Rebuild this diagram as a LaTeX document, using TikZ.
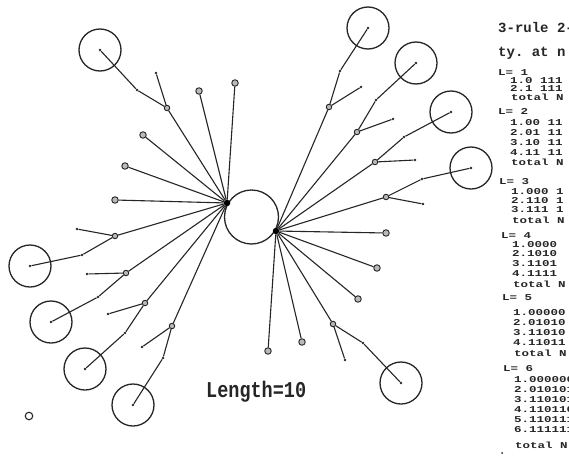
\documentclass[tikz,border=0pt]{standalone}
\usepackage{fontspec}
\setmonofont{Liberation Mono}
\usepackage{graphicx}
\definecolor{ink}{HTML}{262626}
\tikzset{
  ln/.style={draw=ink, line width=1.1pt},
  enddot/.style={circle, draw=ink, fill=gray!55, line width=0.9pt, minimum size=6.5pt, inner sep=0pt},
  brdot/.style={circle, draw=ink, fill=gray!55, line width=0.9pt, minimum size=5.5pt, inner sep=0pt},
  tiny/.style={circle, fill=ink, minimum size=2.8pt, inner sep=0pt},
  hubdot/.style={circle, fill=black, minimum size=6.5pt, inner sep=0pt},
  ring/.style={circle, draw=ink, line width=1.3pt, minimum size=42pt, inner sep=0pt},
  txt/.style={anchor=base west, inner sep=0pt, text=ink, font=\ttfamily\bfseries\fontsize{12.5}{12.5}\selectfont},
  hdr/.style={anchor=base west, inner sep=0pt, text=ink, font=\ttfamily\bfseries\fontsize{14}{14}\selectfont},
}
\newcommand{\squash}[1]{\scalebox{1}[0.72]{#1}}
\begin{document}
\begin{tikzpicture}[x=1pt,y=-1pt]
\useasboundingbox (0,0) rectangle (569,455);
\fill[white] (0,0) rectangle (569,455);
\clip (0,0) rectangle (569,455);

% central circle and hubs
\node[circle, draw=ink, line width=1.3pt, minimum size=54pt, inner sep=0pt] (C0) at (251.5,217) {};
\node[hubdot] (H1) at (227,203) {};
\node[hubdot] (H2) at (276,231) {};

% ---------- left hub ----------
\node[enddot] (l1) at (235,83) {};
\node[enddot] (l2) at (199,91) {};
\node[brdot] (lb1) at (167,108) {};
\node[tiny] (lt1) at (156,73) {};
\node[tiny] (lm1) at (137,90) {};
\node[tiny] (lc1) at (100,50) {};
\node[ring] (lr1) at (100,50) {};
\node[enddot] (l4) at (143,135) {};
\node[enddot] (l5) at (125,166) {};
\node[enddot] (l6) at (115,200) {};
\node[brdot] (lb2) at (115,236) {};
\node[tiny] (lt2) at (77,229) {};
\node[tiny] (lm2) at (82,255) {};
\node[tiny] (lc2) at (30,266) {};
\node[ring] (lr2) at (30,266) {};
\node[brdot] (lb3) at (126,273) {};
\node[tiny] (lt3) at (87,274) {};
\node[tiny] (lm3) at (98,297) {};
\node[tiny] (lc3) at (51,322) {};
\node[ring] (lr3) at (51,322) {};
\node[brdot] (lb4) at (145,303) {};
\node[tiny] (lt4) at (108,314) {};
\node[tiny] (lm4) at (125,333) {};
\node[tiny] (lc4) at (85,369) {};
\node[ring] (lr4) at (85,369) {};
\node[brdot] (lb5) at (172,326) {};
\node[tiny] (lt5) at (142,347) {};
\node[tiny] (lm5) at (163,358) {};
\node[tiny] (lc5) at (133,405) {};
\node[ring] (lr5) at (133,405) {};

\foreach \n in {l1,l2,lb1,l4,l5,l6,lb2,lb3,lb4,lb5} \draw[ln] (H1) -- (\n);
\foreach \i in {1,...,5} {
  \draw[ln] (lb\i) -- (lt\i);
  \draw[ln] (lb\i) -- (lm\i) -- (lc\i);
}

% ---------- right hub ----------
\node[brdot] (rb1) at (329,107) {};
\node[tiny] (rt1) at (361,87) {};
\node[tiny] (rm1) at (340,71) {};
\node[tiny] (rc1) at (368,28) {};
\node[ring] (rr1) at (368,28) {};
\node[brdot] (rb2) at (357,132) {};
\node[tiny] (rt2) at (393,119) {};
\node[tiny] (rm2) at (376,100) {};
\node[tiny] (rc2) at (416,63) {};
\node[ring] (rr2) at (416,63) {};
\node[brdot] (rb3) at (375,162) {};
\node[tiny] (rt3) at (415,160) {};
\node[tiny] (rm3) at (404,137) {};
\node[tiny] (rc3) at (451,112) {};
\node[ring] (rr3) at (451,112) {};
\node[brdot] (rb4) at (386,197) {};
\node[tiny] (rt4) at (423,204) {};
\node[tiny] (rm4) at (422,179) {};
\node[tiny] (rc4) at (471,168) {};
\node[ring] (rr4) at (471,168) {};
\node[enddot] (r5) at (386,233) {};
\node[enddot] (r6) at (377,268) {};
\node[enddot] (r7) at (358,299) {};
\node[brdot] (rb5) at (333,324) {};
\node[tiny] (rt5) at (345,360) {};
\node[tiny] (rm5) at (363,343) {};
\node[tiny] (rc5) at (401,383) {};
\node[ring] (rr5) at (401,383) {};
\node[enddot] (r9) at (302,342) {};
\node[enddot] (r10) at (268,351) {};

\foreach \n in {rb1,rb2,rb3,rb4,r5,r6,r7,rb5,r9,r10} \draw[ln] (H2) -- (\n);
\foreach \i in {1,...,5} {
  \draw[ln] (rb\i) -- (rt\i);
  \draw[ln] (rb\i) -- (rm\i) -- (rc\i);
}

% stray small mark
\node[circle, draw=ink, line width=1.1pt, minimum size=7.5pt, inner sep=0pt] (sm) at (29,416) {};
\node[circle, fill=ink, minimum size=2pt, inner sep=0pt] (sd) at (502,453) {};

% label
\node[anchor=base west, inner sep=0pt, text=ink, font=\ttfamily\bfseries\fontsize{18.5}{18.5}\selectfont] (len) at (206,397) {\scalebox{1}[1.22]{Length=10}};

% text column
\node[hdr] (h1) at (498,32) {3-rule 2-};
\node[hdr] (h2) at (498,56) {ty. at n};
\foreach \y/\x/\t [count=\i] in {
  75/498/L= 1, 83/510/1.0 111, 91/510/2.1 111, 100/511/total N,
  114/498/L= 2, 125/510/1.00 11, 135/510/2.01 11, 145/510/3.10 11, 155/510/4.11 11, 165/511/total N,
  184/499/L= 3, 194/511/1.000 1, 203/511/2.110 1, 212/511/3.111 1, 223/512/total N,
  238/501/L= 4, 247/512/1.0000, 256/512/2.1010, 266/512/3.1101, 276/512/4.1111, 287/513/total N,
  300/502/L= 5, 315/513/1.00000, 325/513/2.01010, 335/513/3.11010, 345/513/4.11011, 356/514/total N,
  371/503/L= 6, 382/514/1.000000, 392/514/2.010101, 402/514/3.110101, 412/514/4.110110, 422/514/5.110111, 432/514/6.111111, 448/515/total N}
  {\node[txt] (t\i) at (\x,\y) {\squash{\t}};}
\end{tikzpicture}
\end{document}
